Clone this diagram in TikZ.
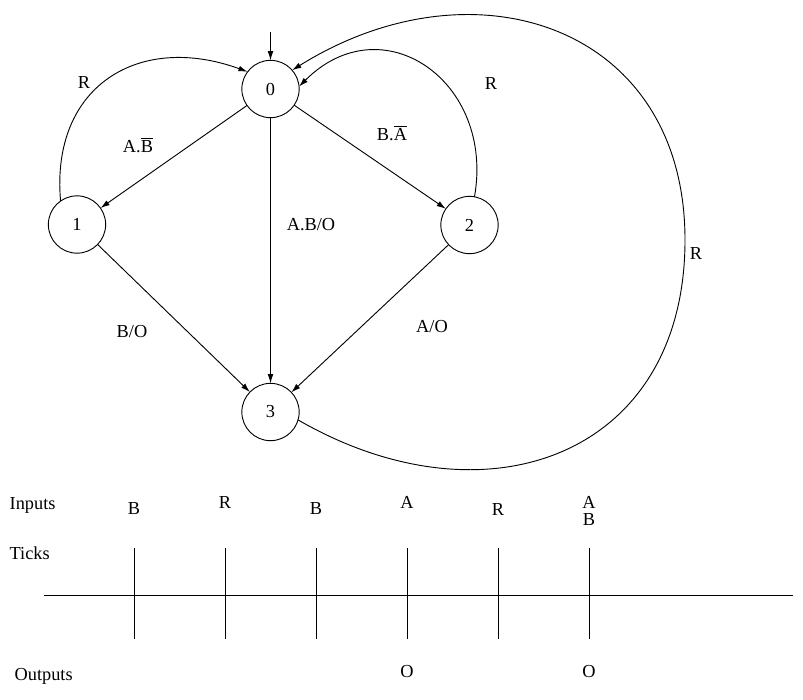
\documentclass[tikz,border=0pt]{standalone}
\usepackage{fontspec}
\setmainfont{Liberation Serif}
\usetikzlibrary{arrows.meta}

\begin{document}
\begin{tikzpicture}[
  x=0.6pt, y=-0.6pt,
  every node/.append style={font=\fontsize{11}{13}\selectfont, inner sep=1pt, outer sep=0pt},
  state/.style={draw, circle, minimum size=34.4pt, inner sep=0pt, line width=0.55pt},
  arr/.style={-{Latex[length=5.5pt,width=3.4pt]}, line width=0.55pt},
  axis/.style={line width=0.6pt},
  tickln/.style={line width=0.6pt},
]
\useasboundingbox (0,0) rectangle (803,699);

%% --- states ---
\node[state] (s0) at (270.5, 89.0) {0};
\node[state] (s1) at (77.0, 224.5) {1};
\node[state] (s2) at (469.5, 225.0) {2};
\node[state] (s3) at (270.5, 412.0) {3};
\coordinate (start) at (270.5, 32);
\coordinate (farR)  at (685, 240);

%% --- transitions ---
\draw[arr] (start) -- (s0);
\draw[arr] (s0) -- (s1);
\draw[arr] (s0) -- (s2);
\draw[arr] (s0) -- (s3);
\draw[arr] (s1) -- (s3);
\draw[arr] (s2) -- (s3);
\draw[arr] (s1.125) to[out=95, in=160, looseness=1.3] (s0.143);
\draw[arr] (s2.80)  to[out=80, in=45, looseness=1.45] (s0.5);
\draw[arr] (s3.-16) to[out=-30, in=-90, looseness=1.3] (farR)
                    to[out=90, in=32, looseness=1.28]  (s0.41);

%% --- transition labels ---
\node (lR1)  at (84, 82)   {R};
\node (lAnB) at (138, 145) {A.$\overline{\mbox{B}}$};
\node (lBnA) at (392, 133) {B.$\overline{\mbox{A}}$};
\node (lR2)  at (491, 83)  {R};
\node (lABO) at (311, 225) {A.B/O};
\node (lBO)  at (132, 332) {B/O};
\node (lAO)  at (432, 327) {A/O};
\node (lR3)  at (696, 253) {R};

%% --- timing chart ---
\node[anchor=west] (inputs)  at (8, 505)  {Inputs};
\node[anchor=west] (ticks)   at (8, 553)  {Ticks};
\node[anchor=west] (outputs) at (13, 676) {Outputs};
\draw[axis] (44, 595) -- (793, 595);
\foreach \x in {134, 225, 316, 407, 498, 589}
  \draw[tickln] (\x, 548) -- (\x, 639);
\foreach \x/\y/\t in {134/509/B, 225/502/R, 316/509/B, 407/502/A, 498/509/R, 589/502/A, 589/520/B}
  \node (in\t\x\y) at (\x, \y) {\t};
\node (out407) at (407, 672) {O};
\node (out589) at (589, 672) {O};

\end{tikzpicture}
\end{document}
